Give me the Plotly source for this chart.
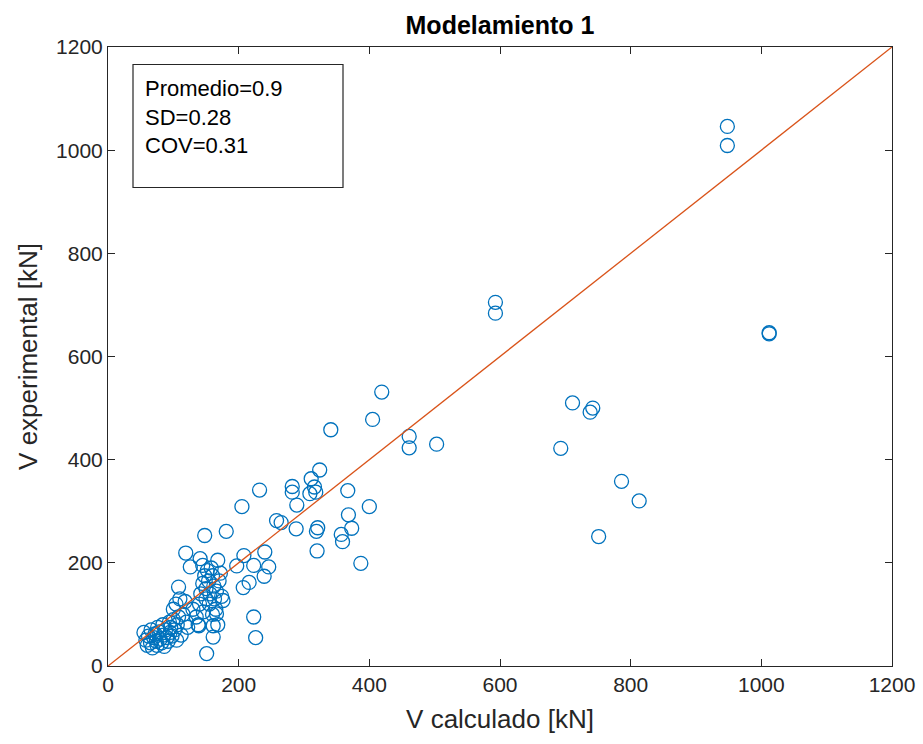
import plotly.graph_objects as go

# V calculado [kN]
v_calc = [55, 58, 60, 62, 65, 66, 68, 70, 72, 74, 75, 76, 78, 80, 82, 84, 85, 86, 88, 90,
          92, 94, 95, 96, 98, 100, 100, 102, 104, 105, 106, 108, 110, 112, 115, 118, 120, 122,
          130, 135, 138, 140, 142, 145, 146, 148, 150, 150, 152, 154, 155, 156, 158, 160, 160,
          162, 163, 165, 166, 168, 170, 172, 174, 176, 161, 151, 161, 139, 166,
          119, 141, 168, 208, 240, 126, 145, 197, 223, 246, 239, 216, 207, 108, 223, 226,
          148, 181, 205, 232, 258, 265, 289, 288, 282, 282, 309, 311, 316, 318, 324, 341,
          367, 400, 405, 419, 368, 373, 321, 319, 357, 359, 320, 387, 461, 461, 503,
          593, 593, 693, 711, 738, 742, 751, 786, 813, 948, 948, 1012, 1012]
# V experimental [kN]
v_exp = [65, 50, 40, 58, 45, 70, 35, 55, 62, 48, 40, 75, 66, 52, 45, 80, 60, 38, 70, 55,
         48, 85, 65, 75, 58, 90, 110, 70, 120, 50, 80, 95, 130, 60, 100, 125, 85, 75,
         110, 95, 80, 120, 140, 160, 105, 175, 150, 130, 185, 165, 120, 140, 190, 100, 175,
         155, 130, 110, 145, 80, 165, 180, 135, 127, 56, 24, 78, 78, 101,
         219, 208, 205, 214, 221, 192, 195, 194, 195, 192, 174, 162, 152, 153, 95, 55,
         253, 261, 309, 341, 282, 278, 312, 266, 348, 337, 334, 363, 347, 337, 380, 458,
         340, 309, 478, 531, 293, 267, 268, 261, 255, 241, 223, 199, 445, 423, 430,
         705, 684, 422, 510, 492, 500, 251, 358, 320, 1046, 1009, 646, 644]

ref_line = [0, 1200]
stats_text = ["Promedio=0.9", "SD=0.28", "COV=0.31"]

FONT = "Liberation Sans, Arial"

fig = go.Figure()
fig.add_trace(go.Scatter(
    x=v_calc, y=v_exp, mode="markers",
    marker=dict(symbol="circle-open", size=14, color="#0072BD", line=dict(width=1.3, color="#0072BD")),
    showlegend=False, hoverinfo="x+y"))
fig.add_trace(go.Scatter(
    x=ref_line, y=ref_line, mode="lines",
    line=dict(color="#D95319", width=1.3), showlegend=False))

axis_common = dict(
    range=[0, 1200], tickvals=[0, 200, 400, 600, 800, 1000, 1200],
    ticks="inside", ticklen=7, tickwidth=1, tickcolor="#262626",
    showline=True, linecolor="#262626", linewidth=1, mirror="ticks",
    showgrid=False, zeroline=False, automargin=False,
    tickfont=dict(family=FONT, size=21, color="#262626"),
)

fig.update_layout(
    width=923, height=744,
    margin=dict(l=108, r=31, t=47, b=78),
    paper_bgcolor="white", plot_bgcolor="white",
    title=dict(text="<b>Modelamiento 1</b>", x=0.5, xref="paper", xanchor="center",
               y=0.966, yanchor="middle",
               font=dict(family=FONT, size=25, color="black")),
    xaxis=dict(**axis_common, title=dict(text="V calculado [kN]", standoff=14,
               font=dict(family=FONT, size=26, color="#262626"))),
    yaxis=dict(**axis_common, title=dict(text="V experimental [kN]", standoff=10,
               font=dict(family=FONT, size=26, color="#262626"))),
    shapes=[dict(type="rect", xref="paper", yref="paper",
                 x0=(133 - 108) / 784, x1=(343 - 108) / 784,
                 y0=(665.5 - 187) / 619, y1=(665.5 - 64) / 619,
                 line=dict(color="#262626", width=1.2), fillcolor="white", layer="above")],
    annotations=[dict(text="<br>".join(stats_text), xref="paper", yref="paper",
                      x=(143 - 108) / 784, y=(665.5 - 73) / 619, xanchor="left", yanchor="top",
                      align="left", showarrow=False,
                      font=dict(family=FONT, size=22, color="black"))],
)

fig.write_html("out.html")
